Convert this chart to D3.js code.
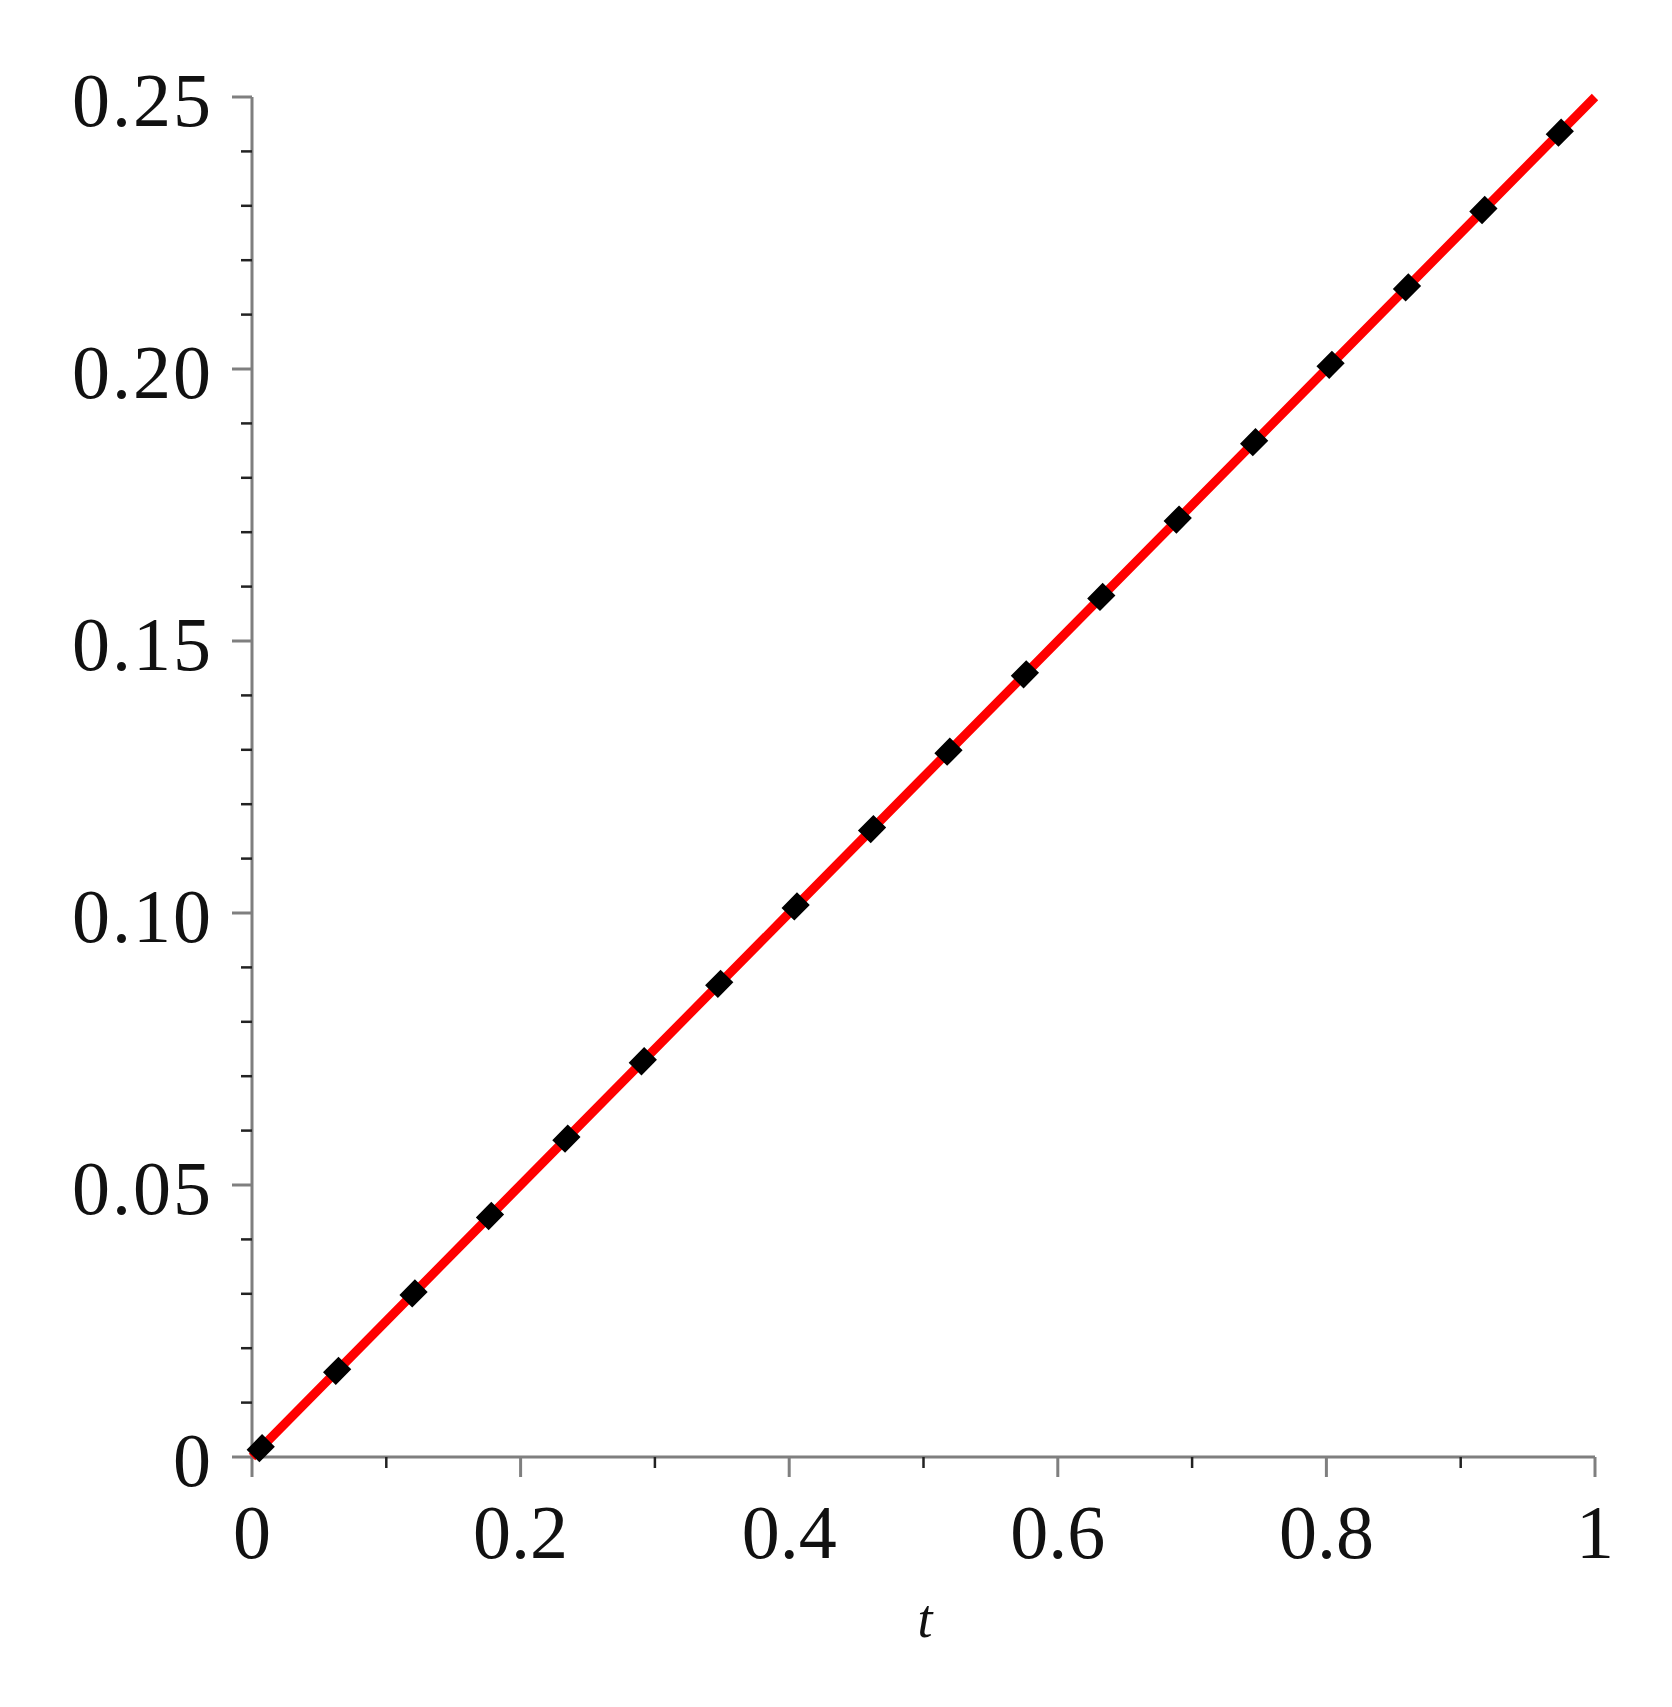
<!DOCTYPE html>
<html>
<head>
<meta charset="utf-8">
<script src="https://cdn.jsdelivr.net/npm/d3@7"></script>
<style>
  html, body { margin: 0; padding: 0; background: #ffffff; }
  svg { display: block; }
</style>
</head>
<body>
<svg id="chart" width="1672" height="1707"></svg>
<script>
// ---- data ----
const tValues = [0, 0.1, 0.2, 0.3, 0.4, 0.5, 0.6, 0.7, 0.8, 0.9, 1];
const redValues = [0, 0.025, 0.05, 0.075, 0.1, 0.125, 0.15, 0.175, 0.2, 0.225, 0.25];
const blackValues = [0, 0.025, 0.05, 0.075, 0.1, 0.125, 0.15, 0.175, 0.2, 0.225, 0.25];
const xMajorTicks = [0, 0.2, 0.4, 0.6, 0.8, 1];
const xMajorLabels = ["0", "0.2", "0.4", "0.6", "0.8", "1"];
const xMinorTicks = [0.1, 0.3, 0.5, 0.7, 0.9];
const yMajorTicks = [0, 0.05, 0.10, 0.15, 0.20, 0.25];
const yMajorLabels = ["0", "0.05", "0.10", "0.15", "0.20", "0.25"];
const yMinorTicks = [0.01,0.02,0.03,0.04,0.06,0.07,0.08,0.09,0.11,0.12,0.13,0.14,0.16,0.17,0.18,0.19,0.21,0.22,0.23,0.24];
const xLabel = "t";

// ---- layout ----
const svg = d3.select("#chart");
const x = d3.scaleLinear().domain([0, 1]).range([252, 1595]);
const y = d3.scaleLinear().domain([0, 0.25]).range([1457, 97]);
const axisColor = "#7f7f7f";
const font = "'Liberation Serif', 'Times New Roman', serif";

// axes lines
svg.append("line").attr("x1", x(0)).attr("x2", x(1)).attr("y1", y(0)).attr("y2", y(0))
  .attr("stroke", axisColor).attr("stroke-width", 3);
svg.append("line").attr("x1", x(0)).attr("x2", x(0)).attr("y1", y(0) + 2).attr("y2", y(0.25))
  .attr("stroke", axisColor).attr("stroke-width", 3);

// x ticks
svg.selectAll(".xmaj").data(xMajorTicks).enter().append("line")
  .attr("x1", d => x(d)).attr("x2", d => x(d)).attr("y1", y(0)).attr("y2", y(0) + 20)
  .attr("stroke", axisColor).attr("stroke-width", 3);
svg.selectAll(".xmin").data(xMinorTicks).enter().append("line")
  .attr("x1", d => x(d)).attr("x2", d => x(d)).attr("y1", y(0)).attr("y2", y(0) + 11)
  .attr("stroke", "#222").attr("stroke-width", 2.5);
svg.selectAll(".xlab").data(xMajorTicks).enter().append("text")
  .attr("x", d => x(d)).attr("y", 1558)
  .attr("text-anchor", "middle")
  .attr("font-family", font).attr("font-size", 76).attr("fill", "#111")
  .text((d, i) => xMajorLabels[i]);

// y ticks
svg.selectAll(".ymaj").data(yMajorTicks).enter().append("line")
  .attr("x1", x(0) - 20).attr("x2", x(0)).attr("y1", d => y(d)).attr("y2", d => y(d))
  .attr("stroke", axisColor).attr("stroke-width", 3);
svg.selectAll(".ymin").data(yMinorTicks).enter().append("line")
  .attr("x1", x(0) - 11).attr("x2", x(0)).attr("y1", d => y(d)).attr("y2", d => y(d))
  .attr("stroke", "#222").attr("stroke-width", 2.5);
svg.selectAll(".ylab").data(yMajorTicks).enter().append("text")
  .attr("x", 213).attr("y", d => y(d) + 29)
  .attr("text-anchor", "end")
  .attr("font-family", font).attr("font-size", 76).attr("fill", "#111")
  .attr("letter-spacing", 2)
  .text((d, i) => yMajorLabels[i]);

// axis label
svg.append("text").attr("x", 925).attr("y", 1637)
  .attr("text-anchor", "middle")
  .attr("font-family", font).attr("font-style", "italic").attr("font-size", 54).attr("fill", "#111")
  .text(xLabel);

// curves
const line = d3.line().x(d => x(d[0])).y(d => y(d[1]));
svg.append("path").datum(tValues.map((t, i) => [t, redValues[i]]))
  .attr("d", line).attr("fill", "none").attr("stroke", "#ff0000").attr("stroke-width", 9);

const blackPath = svg.append("path").datum(tValues.map((t, i) => [t, blackValues[i]]))
  .attr("d", line).attr("fill", "none").attr("stroke", "#000").attr("stroke-width", 18);
const L = blackPath.node().getTotalLength();
const period = L * 0.0569;
const dashLen = 22;
blackPath.attr("stroke-dasharray", dashLen + "," + (period - dashLen))
  .attr("stroke-dashoffset", -(L * 0.0065 - dashLen / 2));
</script>
</body>
</html>
